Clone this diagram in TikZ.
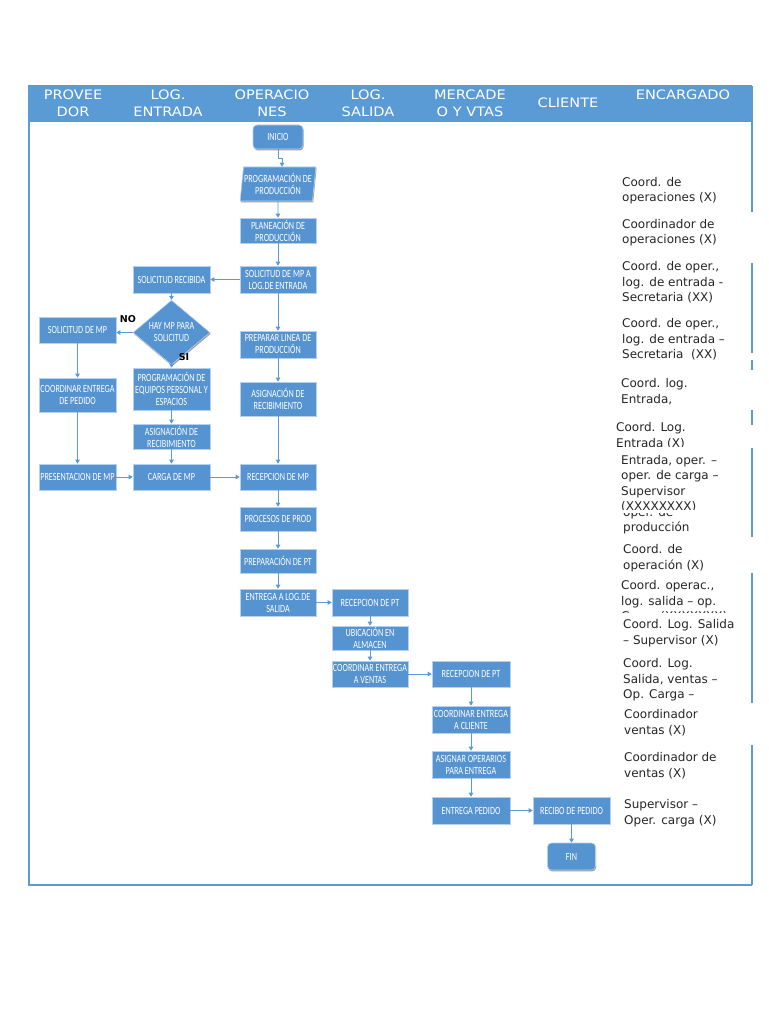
\documentclass[tikz,border=0pt]{standalone}
\usepackage{fontspec}
\setmainfont{DejaVu Sans}
\newfontfamily\boxfont[FakeStretch=0.74]{Carlito}
\newfontfamily\hdrfont[FakeStretch=1.12]{DejaVu Sans}
\usetikzlibrary{shapes.geometric,arrows.meta,shadows}
\definecolor{hblue}{HTML}{5B9BD5}
\definecolor{bblue}{HTML}{5593D1}
\definecolor{bline}{HTML}{B4D0EC}
\newcommand\rl[1]{\begin{tabular}[t]{@{}l@{}}#1\end{tabular}}
\newcommand\hl[1]{\begin{tabular}[t]{@{}c@{}}#1\end{tabular}}
\begin{document}
\begin{tikzpicture}[x=1pt,y=-1pt,
  fbox/.style={draw=bline, line width=0.6pt, fill=bblue, text=white,
    font=\boxfont\fontsize{11}{12}\selectfont, align=center, inner sep=0pt,
    drop shadow={shadow xshift=0.7pt, shadow yshift=-1.4pt, fill=black!55, opacity=0.7}},
  rbox/.style={fbox, rounded corners=4pt},
  pbox/.style={fbox, trapezium, trapezium left angle=81, trapezium right angle=99, trapezium stretches=true},
  dbox/.style={fbox, diamond},
  arr/.style={draw=hblue, line width=0.9pt, -{Triangle[length=4pt,width=4.5pt]}},
  rtxt/.style={anchor=base west, inner sep=0pt, font=\fontsize{12}{15.5}\selectfont, text=black!85},
  htxt/.style={anchor=base, inner sep=0pt, text=white, font=\hdrfont\fontsize{13}{17}\selectfont},
  lbl/.style={inner sep=0pt, font=\bfseries\fontsize{9.5}{9.5}\selectfont}
]
\useasboundingbox (0,0) rectangle (768,1024);
\fill[white] (0,0) rectangle (768,1024);

% header and frame
\fill[hblue] (29,86) rectangle (752,122);
\draw[hblue, line width=1.3pt] (752,86) -- (29,86) -- (29,885) -- (752,885);
\foreach \a/\b in {86/212,263/353,360/370,410/425,448/537,573/703,745/885}
  \draw[hblue, line width=1.3pt] (752,\a) -- (752,\b);

\node[htxt] (h1) at (73,100) {\hl{PROVEE\\DOR}};
\node[htxt] (h2) at (168,100) {\hl{LOG.\\ENTRADA}};
\node[htxt] (h3) at (272,100) {\hl{OPERACIO\\NES}};
\node[htxt] (h4) at (368,100) {\hl{LOG.\\SALIDA}};
\node[htxt] (h5) at (470,100) {\hl{MERCADE\\O Y VTAS}};
\node[htxt] (h6) at (568,108) {CLIENTE};
\node[htxt] (h7) at (683,100) {ENCARGADO};

% operaciones
\node[rbox, minimum width=50pt, minimum height=24pt] (inicio) at (278,137) {INICIO};
\node[pbox, minimum width=76pt, minimum height=34pt] (progprod) at (278,184) {PROGRAMACIÓN DE\\PRODUCCIÓN};
\node[fbox, minimum width=76pt, minimum height=25pt] (planea) at (278,230.5) {PLANEACIÓN DE\\PRODUCCIÓN};
\node[fbox, minimum width=76pt, minimum height=27pt] (solmp) at (278,279.5) {SOLICITUD DE MP A\\LOG.DE ENTRADA};
\node[fbox, minimum width=76pt, minimum height=27pt] (prepl) at (278,344.5) {PREPARAR LINEA DE\\PRODUCCIÓN};
\node[fbox, minimum width=76pt, minimum height=34pt] (asigop) at (278,399) {ASIGNACIÓN DE\\RECIBIMIENTO};
\node[fbox, minimum width=76pt, minimum height=26pt] (recmp) at (278,477) {RECEPCION DE MP};
\node[fbox, minimum width=76pt, minimum height=24pt] (procesos) at (278,519) {PROCESOS DE PROD};
\node[fbox, minimum width=76pt, minimum height=24pt] (preppt) at (278,561) {PREPARACIÓN DE PT};
\node[fbox, minimum width=76pt, minimum height=27pt] (entlog) at (278,602.5) {ENTREGA A LOG.DE\\SALIDA};

% log. entrada
\node[fbox, minimum width=77pt, minimum height=27pt] (solrec) at (171.5,279.5) {SOLICITUD RECIBIDA};
\node[dbox, minimum width=77pt, minimum height=47pt] (hay) at (171.5,332.5) {HAY MP PARA\\SOLICITUD};
\node[fbox, minimum width=77pt, minimum height=42pt] (progeq) at (171.5,389) {PROGRAMACIÓN DE\\EQUIPOS PERSONAL Y\\ESPACIOS};
\node[fbox, minimum width=77pt, minimum height=25pt] (asigle) at (171.5,436.5) {ASIGNACIÓN DE\\RECIBIMIENTO};
\node[fbox, minimum width=77pt, minimum height=26pt] (carga) at (171.5,477) {CARGA DE MP};

% proveedor
\node[fbox, minimum width=77pt, minimum height=26pt] (solmpp) at (77.5,330) {SOLICITUD DE MP};
\node[fbox, minimum width=77pt, minimum height=34pt] (coordped) at (77.5,395) {COORDINAR ENTREGA\\DE PEDIDO};
\node[fbox, minimum width=77pt, minimum height=26pt] (present) at (77.5,477) {PRESENTACION DE MP};

% log. salida
\node[fbox, minimum width=76pt, minimum height=27pt] (recpt1) at (370,602.5) {RECEPCION DE PT};
\node[fbox, minimum width=76pt, minimum height=24pt] (ubic) at (370,638) {UBICACIÓN EN\\ALMACEN};
\node[fbox, minimum width=76pt, minimum height=26pt] (coordv) at (370,674) {COORDINAR ENTREGA\\A VENTAS};

% mercadeo
\node[fbox, minimum width=78pt, minimum height=26pt] (recpt2) at (471,674) {RECEPCION DE PT};
\node[fbox, minimum width=78pt, minimum height=27pt] (coordcl) at (471,719.5) {COORDINAR ENTREGA\\A CLIENTE};
\node[fbox, minimum width=78pt, minimum height=27pt] (asignar) at (471,764.5) {ASIGNAR OPERARIOS\\PARA ENTREGA};
\node[fbox, minimum width=78pt, minimum height=27pt] (entped) at (471,810.5) {ENTREGA PEDIDO};

% cliente
\node[fbox, minimum width=77pt, minimum height=27pt] (recibo) at (571.5,810.5) {RECIBO DE PEDIDO};
\node[rbox, minimum width=48pt, minimum height=27pt] (fin) at (571.5,856.5) {FIN};

% labels
\node[lbl] (no) at (128,319) {NO};
\node[lbl] (si) at (184,357) {SI};

% connectors
\draw[arr] (inicio.south) -- ++(0,9) -| ([xshift=4pt]progprod.north);
\draw[arr] (progprod.south) -- (planea.north);
\draw[arr] (planea) -- (solmp);
\draw[arr] (solmp) -- (solrec);
\draw[arr] (solmp) -- (prepl);
\draw[arr] (prepl) -- (asigop);
\draw[arr] (asigop) -- (recmp);
\draw[arr] (solrec) -- (hay);
\draw[arr] (hay.west) -- (hay.west -| solmpp.east);
\draw[arr] (hay) -- (progeq);
\draw[arr] (progeq) -- (asigle);
\draw[arr] (asigle) -- (carga);
\draw[arr] (solmpp) -- (coordped);
\draw[arr] (coordped) -- (present);
\draw[arr] (present) -- (carga);
\draw[arr] (carga) -- (recmp);
\draw[arr] (recmp) -- (procesos);
\draw[arr] (procesos) -- (preppt);
\draw[arr] (preppt) -- (entlog);
\draw[arr] (entlog) -- (recpt1);
\draw[arr] (recpt1) -- (ubic);
\draw[arr] (ubic) -- (coordv);
\draw[arr] (coordv) -- (recpt2);
\draw[arr] (recpt2) -- (coordcl);
\draw[arr] (coordcl) -- (asignar);
\draw[arr] (asignar) -- (entped);
\draw[arr] (entped) -- (recibo);
\draw[arr] (recibo) -- (fin);

% encargado texts
\foreach \n/\x/\b/\t/\c/\txt in {
  e1/622/186.5/165/205/{Coord. de\\operaciones (X)},
  e2/622/228.5/207/247/{Coordinador de\\operaciones (X)},
  e3/622/270.5/250/305/{Coord. de oper.,\\log. de entrada -\\Secretaria (XX)},
  e4/622/327.5/307/362/{Coord. de oper.,\\log. de entrada –\\Secretaria\ \ (XX)},
  e5/621/387.5/366/406/{Coord. log.\\Entrada,},
  e6/616/431.5/414/446/{Coord. Log.\\Entrada (X)},
  e7/621/464/446/509/{Entrada, oper. –\\oper. de carga –\\Supervisor\\(XXXXXXXX)},
  e8/623/516/513/536/{oper. de\\producción},
  e9/623/553.5/538/572/{Coord. de\\operación (X)},
  e10/621/589.5/574/612/{Coord. operac.,\\log. salida – op.\\Carga (XXXXXXX)},
  e11/623/628.5/612/648/{Coord. Log. Salida\\– Supervisor (X)},
  e12/623/667.5/650/700/{Coord. Log.\\Salida, ventas –\\Op. Carga –},
  e13/624/718.5/703/737/{Coordinador\\ventas (X)},
  e14/624/761.5/745/780/{Coordinador de\\ventas (X)},
  e15/624/808.5/790/828/{Supervisor –\\Oper. carga (X)}}{
  \begin{scope}
    \clip (612,\t) rectangle (750,\c);
    \node[rtxt] (\n) at (\x,\b) {\rl{\txt}};
  \end{scope}
}
\end{tikzpicture}
\end{document}
